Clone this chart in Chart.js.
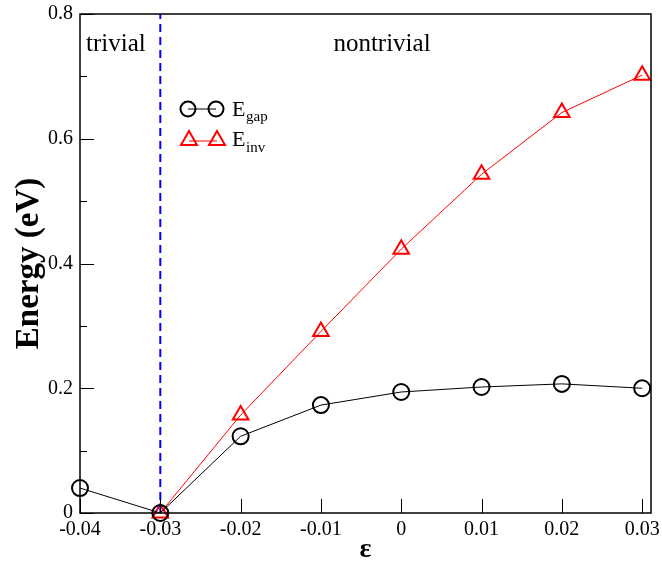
<!DOCTYPE html>
<html>
<head>
<meta charset="utf-8">
<script src="https://cdn.jsdelivr.net/npm/chart.js@4/dist/chart.umd.min.js"></script>
<style>
  html, body { margin: 0; padding: 0; background: #fff; }
  #wrap { width: 662px; height: 567px; }
</style>
</head>
<body>
<div id="wrap"><canvas id="chart"></canvas></div>
<script>
// strain values and energies
const strain = [-0.04, -0.03, -0.02, -0.01, 0, 0.01, 0.02, 0.03];
const eGap = [0.040, 0.000, 0.123, 0.173, 0.194, 0.202, 0.207, 0.200];
const invStrain = [-0.03, -0.02, -0.01, 0, 0.01, 0.02, 0.03];
const eInv = [0.000, 0.157, 0.291, 0.423, 0.543, 0.642, 0.702];
const transition = -0.03;

const xTicks = [-0.04, -0.03, -0.02, -0.01, 0, 0.01, 0.02, 0.03];
const xLabels = ['-0.04', '-0.03', '-0.02', '-0.01', '0', '0.01', '0.02', '0.03'];
const yTicks = [0, 0.2, 0.4, 0.6, 0.8];
const yLabels = ['0', '0.2', '0.4', '0.6', '0.8'];
const yMinor = [0.1, 0.3, 0.5, 0.7];

const serif = '"Liberation Serif", "DejaVu Serif", serif';

// frame, inward ticks, region labels and the legend
const decor = {
  id: 'decor',
  afterDraw(chart) {
    const { ctx, chartArea: a, scales: { x, y } } = chart;
    ctx.save();
    ctx.strokeStyle = '#000';
    ctx.lineWidth = 1.5;
    ctx.strokeRect(a.left, a.top, a.right - a.left, a.bottom - a.top);

    ctx.lineWidth = 1;
    ctx.beginPath();
    xTicks.forEach(v => {
      const px = Math.round(x.getPixelForValue(v)) + 0.5;
      ctx.moveTo(px, a.bottom); ctx.lineTo(px, a.bottom - 14);
    });
    yTicks.forEach(v => {
      const py = Math.round(y.getPixelForValue(v)) + 0.5;
      ctx.moveTo(a.left, py); ctx.lineTo(a.left + 14, py);
    });
    yMinor.forEach(v => {
      const py = Math.round(y.getPixelForValue(v)) + 0.5;
      ctx.moveTo(a.left, py); ctx.lineTo(a.left + 7, py);
    });
    ctx.stroke();

    ctx.fillStyle = '#000';
    ctx.font = '25px ' + serif;
    ctx.textBaseline = 'alphabetic';
    ctx.textAlign = 'left';
    ctx.fillText('trivial', 86, 51);
    ctx.textAlign = 'center';
    ctx.fillText('nontrivial', 382, 51);

    // legend
    ctx.lineWidth = 1;
    ctx.strokeStyle = '#000';
    ctx.beginPath(); ctx.moveTo(188, 109); ctx.lineTo(216, 109); ctx.stroke();
    ctx.lineWidth = 2;
    [188, 216].forEach(cx => {
      ctx.beginPath(); ctx.arc(cx, 109, 7.5, 0, Math.PI * 2); ctx.stroke();
    });
    ctx.strokeStyle = '#ff0000';
    ctx.lineWidth = 1;
    ctx.beginPath(); ctx.moveTo(189, 141); ctx.lineTo(217, 141); ctx.stroke();
    ctx.lineWidth = 2;
    [189, 217].forEach(cx => {
      ctx.beginPath();
      ctx.moveTo(cx, 131); ctx.lineTo(cx + 8, 145); ctx.lineTo(cx - 8, 145);
      ctx.closePath(); ctx.stroke();
    });

    ctx.fillStyle = '#000';
    ctx.textAlign = 'left';
    ctx.font = '22px ' + serif;
    ctx.fillText('E', 232, 116);
    ctx.fillText('E', 232, 146);
    ctx.font = '15px ' + serif;
    ctx.fillText('gap', 246, 121);
    ctx.fillText('inv', 246, 152);
    ctx.restore();
  }
};

new Chart(document.getElementById('chart'), {
  type: 'line',
  data: {
    datasets: [
      {
        label: 'transition',
        data: [{ x: transition, y: 0 }, { x: transition, y: 0.8 }],
        borderColor: '#0000ff',
        borderWidth: 2,
        borderDash: [8, 5],
        pointRadius: 0
      },
      {
        label: 'Egap',
        data: strain.map((s, i) => ({ x: s, y: eGap[i] })),
        clip: false,
        borderColor: '#000',
        borderWidth: 1,
        pointStyle: 'circle',
        pointRadius: 8,
        pointBorderWidth: 2,
        pointBorderColor: '#000',
        pointBackgroundColor: 'rgba(0,0,0,0)'
      },
      {
        label: 'Einv',
        data: invStrain.map((s, i) => ({ x: s, y: eInv[i] })),
        clip: false,
        borderColor: '#ff0000',
        borderWidth: 1,
        pointStyle: 'triangle',
        pointRadius: 9,
        pointBorderWidth: 2,
        pointBorderColor: '#ff0000',
        pointBackgroundColor: 'rgba(0,0,0,0)'
      }
    ]
  },
  options: {
    responsive: true,
    maintainAspectRatio: false,
    animation: false,
    layout: { padding: { top: 14, right: 11, left: 0, bottom: 0 } },
    plugins: { legend: { display: false }, tooltip: { enabled: false } },
    scales: {
      x: {
        type: 'linear',
        min: -0.04,
        max: 0.0311,
        afterBuildTicks: s => { s.ticks = xTicks.map(v => ({ value: v })); },
        afterFit: s => { s.height = 54; s.paddingLeft = 0; s.paddingRight = 0; },
        grid: { display: false, drawTicks: false },
        border: { display: false },
        ticks: {
          color: '#000',
          padding: 5,
          maxRotation: 0,
          autoSkip: false,
          font: { family: serif, size: 20 },
          callback: v => xLabels[xTicks.findIndex(t => Math.abs(t - v) < 1e-9)]
        },
        title: {
          display: true,
          text: 'ε',
          color: '#000',
          padding: { top: -14, bottom: 0 },
          font: { family: serif, size: 28, weight: 'bold' }
        }
      },
      y: {
        min: 0,
        max: 0.8,
        afterBuildTicks: s => { s.ticks = yTicks.map(v => ({ value: v })); },
        afterFit: s => { s.width = 80; s.paddingTop = 0; s.paddingBottom = 0; },
        grid: { display: false, drawTicks: false },
        border: { display: false },
        ticks: {
          color: '#000',
          padding: 7,
          font: { family: serif, size: 20 },
          callback: v => yLabels[yTicks.findIndex(t => Math.abs(t - v) < 1e-9)]
        },
        title: {
          display: true,
          text: 'Energy (eV)',
          color: '#000',
          padding: { top: 10, bottom: 4 },
          font: { family: serif, size: 33, weight: 'bold' }
        }
      }
    }
  },
  plugins: [decor]
});
</script>
</body>
</html>
